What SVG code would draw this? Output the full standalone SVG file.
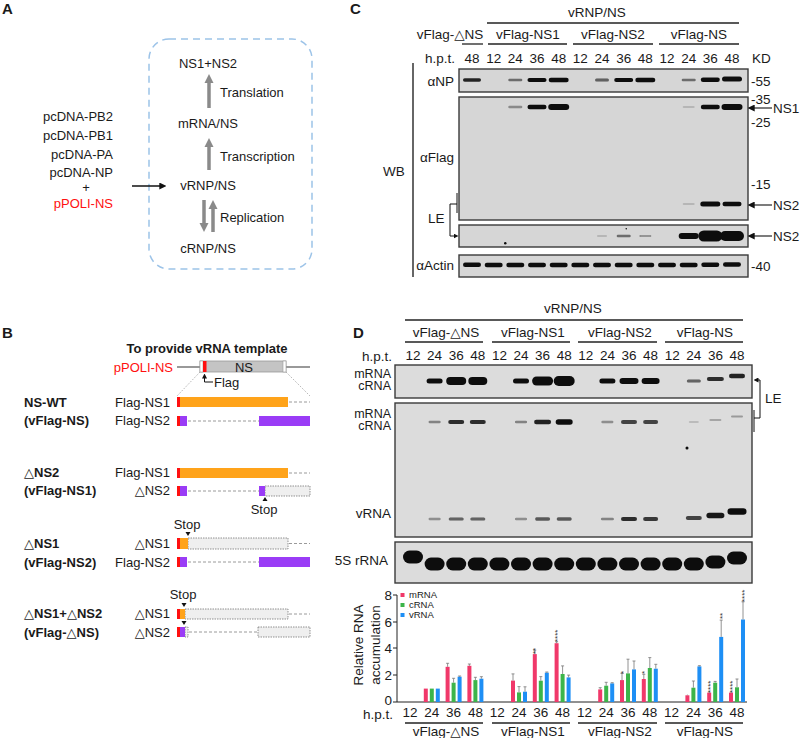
<svg xmlns="http://www.w3.org/2000/svg" width="800" height="738" viewBox="0 0 800 738">
<defs>
<style>
text{font-family:"Liberation Sans",Arial,"DejaVu Sans",sans-serif;fill:#1a1a1a;font-size:13px}
.s{font-size:13.5px}
.st{font-size:12.5px}
.b{font-weight:bold}
.pl{font-size:15px;font-weight:bold}
.red{fill:#ff1010}
.m{text-anchor:middle}
.e{text-anchor:end}
.ln{stroke:#222;stroke-width:1.3;fill:none}
.blot{fill:#d6d6d6;stroke:#3a3a3a;stroke-width:1.4}
.blotd{fill:#dcdcdc;stroke:#3a3a3a;stroke-width:1.4}
.bd rect{fill:#111}
.dash{stroke:#9a9a9a;stroke-width:1;stroke-dasharray:3 2;fill:none}
.ghost{fill:#efefef;stroke:#777;stroke-width:0.8;stroke-dasharray:1.5 1}
.or{fill:#ffa31a}
.pu{fill:#9a3cf6}
.rd{fill:#ff1010}
.mr{fill:#f0386a}
.cr{fill:#3cb54a}
.vr{fill:#1e8ff5}
.eb{stroke:#777;stroke-width:0.8;fill:none}
.ga{stroke:#8a8a8a;stroke-width:3.5;fill:none}
.ast{font-size:8px;fill:#333}
.lg{font-size:9.5px}
</style>
<marker id="mg" viewBox="0 0 10 10" refX="0" refY="5" markerWidth="9" markerHeight="10" markerUnits="userSpaceOnUse" orient="auto"><path d="M0,0 L10,5 L0,10 z" fill="#8a8a8a"/></marker>
<marker id="mk" viewBox="0 0 10 10" refX="1" refY="5" markerWidth="7" markerHeight="7" markerUnits="userSpaceOnUse" orient="auto"><path d="M0,0 L10,5 L0,10 z" fill="#111"/></marker>
<marker id="mks" viewBox="0 0 10 10" refX="1" refY="5" markerWidth="5" markerHeight="5" markerUnits="userSpaceOnUse" orient="auto"><path d="M0,0 L10,5 L0,10 z" fill="#111"/></marker>
<filter id="blur" x="-20%" y="-50%" width="140%" height="200%"><feGaussianBlur stdDeviation="0.7"/></filter>
</defs>

<text class="pl" x="2" y="14">A</text>
<text class="pl" x="350" y="14">C</text>
<text class="pl" x="2" y="338">B</text>
<text class="pl" x="353" y="338">D</text>

<g id="panelA">
  <rect id="cellbox" x="149" y="39" width="163" height="230" rx="20" fill="none" stroke="#9cc3e8" stroke-width="1.5" stroke-dasharray="7 5"/>
  <g id="plasmids">
    <text class="e" x="113" y="121">pcDNA-PB2</text>
    <text class="e" x="113" y="140">pcDNA-PB1</text>
    <text class="e" x="113" y="159">pcDNA-PA</text>
    <text class="e" x="113" y="177">pcDNA-NP</text>
    <text class="m" x="86" y="192">+</text>
    <text class="e red" x="113" y="208">pPOLI-NS</text>
  </g>
  <g id="nodeNS12"><text class="m" x="208" y="68">NS1+NS2</text></g>
  <g id="nodeMRNA"><text class="m" x="208" y="128">mRNA/NS</text></g>
  <g id="nodeVRNP"><text class="m" x="208" y="190">vRNP/NS</text></g>
  <g id="nodeCRNP"><text class="m" x="208" y="253">cRNP/NS</text></g>
  <g id="connectorsA">
    <line x1="132" y1="186" x2="160" y2="186" stroke="#111" stroke-width="1.5" marker-end="url(#mk)"/>
    <line class="ga" x1="209" y1="108" x2="209" y2="83" marker-end="url(#mg)"/>
    <line class="ga" x1="209" y1="170" x2="209" y2="147" marker-end="url(#mg)"/>
    <line class="ga" x1="204" y1="200" x2="204" y2="223" marker-end="url(#mg)"/>
    <line class="ga" x1="213" y1="232" x2="213" y2="209" marker-end="url(#mg)"/>
    <text x="220" y="97">Translation</text>
    <text x="220" y="161">Transcription</text>
    <text x="220" y="222">Replication</text>
  </g>
</g>

<g id="panelB">
  <text class="m b" x="207" y="353">To provide vRNA template</text>
  <g id="pPOLI">
    <text class="e red" x="173" y="372">pPOLI-NS</text>
    <line x1="177" y1="367" x2="200" y2="367" stroke="#777" stroke-width="1.5"/>
    <line x1="286" y1="367" x2="310" y2="367" stroke="#777" stroke-width="1.5"/>
    <rect x="200" y="361" width="86" height="11" fill="#c4c4c4" stroke="#999" stroke-width="0.8"/>
    <rect x="200" y="361" width="3" height="11" fill="#fff" stroke="#999" stroke-width="0.6"/>
    <rect x="283" y="361" width="3" height="11" fill="#fff" stroke="#999" stroke-width="0.6"/>
    <rect x="203" y="361" width="3.5" height="11" class="rd"/>
    <text class="m" x="244" y="371.5">NS</text>
    <path d="M213,382 H204.5 V378" stroke="#111" stroke-width="1" fill="none" marker-end="url(#mks)"/>
    <text x="214" y="387">Flag</text>
    <line x1="200" y1="372" x2="177" y2="396" stroke="#888" stroke-width="0.8" stroke-dasharray="1 1.5"/>
    <line x1="286" y1="372" x2="310" y2="396" stroke="#888" stroke-width="0.8" stroke-dasharray="1 1.5"/>
  </g>

  <g id="constructWT">
    <text class="b" x="24" y="407">NS-WT</text>
    <text class="b" x="24" y="425">(vFlag-NS)</text>
    <text class="e" x="170" y="407">Flag-NS1</text>
    <text class="e" x="170" y="425">Flag-NS2</text>
    <rect class="rd" x="177" y="397" width="3" height="10"/><rect class="or" x="180" y="397" width="108" height="10"/>
    <line class="dash" x1="289" y1="402" x2="310" y2="402"/>
    <rect class="rd" x="177" y="416" width="3" height="10"/><rect class="pu" x="180" y="416" width="7" height="10"/>
    <line class="dash" x1="188" y1="421" x2="259" y2="421"/>
    <rect class="pu" x="259" y="416" width="51" height="10"/>
  </g>

  <g id="constructDNS2">
    <text class="b" x="24" y="477">△NS2</text>
    <text class="b" x="24" y="495">(vFlag-NS1)</text>
    <text class="e" x="170" y="477">Flag-NS1</text>
    <text class="e" x="170" y="495">△NS2</text>
    <rect class="rd" x="177" y="468" width="3" height="10"/><rect class="or" x="180" y="468" width="108" height="10"/>
    <line class="dash" x1="289" y1="473" x2="310" y2="473"/>
    <rect class="rd" x="177" y="486" width="3" height="10"/><rect class="pu" x="180" y="486" width="7" height="10"/>
    <line class="dash" x1="188" y1="491" x2="259" y2="491"/>
    <rect class="ghost" x="265" y="486" width="45" height="10"/>
    <rect class="pu" x="259" y="486" width="6" height="10"/>
    <path d="M265,497 L262.5,501 L267.5,501 z" fill="#111"/>
    <text class="m" x="264" y="514">Stop</text>
  </g>

  <g id="constructDNS1">
    <text class="b" x="24" y="548">△NS1</text>
    <text class="b" x="24" y="567">(vFlag-NS2)</text>
    <text class="e" x="170" y="548">△NS1</text>
    <text class="e" x="170" y="567">Flag-NS2</text>
    <text class="m" x="187" y="529">Stop</text>
    <path d="M188,536 L185.5,532 L190.5,532 z" fill="#111"/>
    <rect class="ghost" x="188" y="538" width="100" height="11"/>
    <rect class="rd" x="177" y="538" width="3" height="11"/><rect class="or" x="180" y="538" width="8" height="11"/>
    <line class="dash" x1="289" y1="543.5" x2="310" y2="543.5"/>
    <rect class="rd" x="177" y="557" width="3" height="10"/><rect class="pu" x="180" y="557" width="7" height="10"/>
    <line class="dash" x1="188" y1="562" x2="259" y2="562"/>
    <rect class="pu" x="259" y="557" width="51" height="10"/>
  </g>

  <g id="constructDNS">
    <text class="b" x="24" y="618">△NS1+△NS2</text>
    <text class="b" x="24" y="637">(vFlag-△NS)</text>
    <text class="e" x="170" y="618">△NS1</text>
    <text class="e" x="170" y="637">△NS2</text>
    <text class="m" x="183" y="599">Stop</text>
    <path d="M184,607 L181.5,603 L186.5,603 z" fill="#111"/>
    <rect class="ghost" x="185" y="609" width="103" height="10"/>
    <rect class="rd" x="177" y="609" width="3" height="10"/><rect class="or" x="180" y="609" width="5" height="10"/>
    <line class="dash" x1="289" y1="614" x2="310" y2="614"/>
    <path d="M184,625 L181.5,621 L186.5,621 z" fill="#111"/>
    <rect class="ghost" x="185" y="627" width="3" height="10"/>
    <rect class="rd" x="177" y="627" width="3" height="10"/><rect class="pu" x="180" y="627" width="5" height="10"/>
    <line class="dash" x1="189" y1="632" x2="258" y2="632"/>
    <rect class="ghost" x="258" y="627" width="52" height="10"/>
  </g>
</g>

<g id="panelC">
  <text class="m s" x="597" y="17">vRNP/NS</text>
  <line class="ln" x1="487" y1="23" x2="739" y2="23"/>
  <text class="m s" x="450" y="39">vFlag-△NS</text>
  <text class="m s" x="528" y="39">vFlag-NS1</text>
  <text class="m s" x="613" y="39">vFlag-NS2</text>
  <text class="m s" x="699" y="39">vFlag-NS</text>
  <line class="ln" x1="462" y1="44" x2="483" y2="44"/>
  <line class="ln" x1="488" y1="44" x2="567" y2="44"/>
  <line class="ln" x1="573" y1="44" x2="653" y2="44"/>
  <line class="ln" x1="659" y1="44" x2="739" y2="44"/>
  <text class="s" x="425" y="63">h.p.t.</text>
  <g>
    <text class="m s" x="472" y="63">48</text>
    <text class="m s" x="493.7" y="63">12</text>
    <text class="m s" x="515.3" y="63">24</text>
    <text class="m s" x="537" y="63">36</text>
    <text class="m s" x="558.7" y="63">48</text>
    <text class="m s" x="580.3" y="63">12</text>
    <text class="m s" x="602" y="63">24</text>
    <text class="m s" x="623.7" y="63">36</text>
    <text class="m s" x="645.3" y="63">48</text>
    <text class="m s" x="667" y="63">12</text>
    <text class="m s" x="688.7" y="63">24</text>
    <text class="m s" x="710.3" y="63">36</text>
    <text class="m s" x="732" y="63">48</text>
  </g>
  <text class="s" x="752" y="63">KD</text>

  <line x1="413" y1="63" x2="413" y2="277" stroke="#333" stroke-width="1.5"/>
  <text class="s" x="383" y="176">WB</text>

  <g id="blotNP">
    <rect class="blot" x="459" y="69" width="289" height="23"/>
    <g class="bd" filter="url(#blur)">
      <rect x="463" y="78.2" width="18" height="3.5" rx="1.7" fill-opacity="0.9"/>
      <rect x="508.3" y="78.8" width="14" height="2.5" rx="1.2" fill-opacity="0.55"/>
      <rect x="527.5" y="78" width="19" height="4" rx="2"/>
      <rect x="548.7" y="77.8" width="20" height="4.5" rx="2.2"/>
      <rect x="595" y="78.5" width="14" height="3" rx="1.5" fill-opacity="0.6"/>
      <rect x="614.2" y="78" width="19" height="4" rx="2"/>
      <rect x="635.3" y="77.8" width="20" height="4.5" rx="2.2"/>
      <rect x="681.7" y="78.8" width="14" height="2.5" rx="1.2" fill-opacity="0.55"/>
      <rect x="700.8" y="77.5" width="19" height="4.5" rx="2.2"/>
      <rect x="722" y="76.5" width="20" height="5" rx="2.5"/>
    </g>
    <text class="e s" x="454" y="86">αNP</text>
    <text class="s" x="751" y="86">-55</text>
  </g>

  <g id="blotFlag">
    <rect class="blot" x="459" y="97" width="289" height="123"/>
    <g class="bd" filter="url(#blur)">
      <rect x="508.3" y="105.8" width="14" height="2.5" rx="1.2" fill-opacity="0.4"/>
      <rect x="527.5" y="104.8" width="19" height="4.5" rx="2.2"/>
      <rect x="548.2" y="104" width="21" height="6" rx="3"/>
      <rect x="682.7" y="106" width="12" height="2" rx="1" fill-opacity="0.15"/>
      <rect x="700.8" y="104.8" width="19" height="4.5" rx="2.2"/>
      <rect x="721.5" y="104" width="21" height="6" rx="3"/>
      <rect x="682.7" y="203" width="12" height="2" rx="1" fill-opacity="0.15"/>
      <rect x="700.3" y="201.5" width="20" height="5" rx="2.5"/>
      <rect x="722.5" y="201.8" width="19" height="4.5" rx="2.2"/>
    </g>
    <text class="e s" x="454" y="162">αFlag</text>
    <text class="s" x="751" y="104">-35</text>
    <text class="s" x="751" y="127">-25</text>
    <text class="s" x="751" y="189">-15</text>
  </g>

  <g id="blotLE">
    <rect class="blot" x="459" y="225" width="289" height="22"/>
    <g class="bd" filter="url(#blur)">
      <rect x="597" y="235.2" width="10" height="1.5" rx="0.7" fill-opacity="0.2"/>
      <rect x="616.7" y="234.8" width="14" height="2.5" rx="1.2" fill-opacity="0.55"/>
      <rect x="639.3" y="235" width="12" height="2" rx="1" fill-opacity="0.35"/>
      <rect x="678.7" y="233" width="20" height="6" rx="3"/>
      <rect x="698.3" y="230.5" width="24" height="11" rx="5.5"/>
      <rect x="720" y="231" width="24" height="10" rx="5"/>
      <rect x="504" y="242" width="2.5" height="2.5" rx="1.2"/>
      <rect x="625.5" y="228" width="1.5" height="1.5" rx="0.7"/>
    </g>
    <path d="M457,193 V213 M457,204 H450 V236 H454" stroke="#111" stroke-width="1" fill="none" marker-end="url(#mks)"/>
    <text class="s" x="428" y="223">LE</text>
  </g>

  <g id="blotActin">
    <rect class="blot" x="459" y="255" width="289" height="22"/>
    <g class="bd" filter="url(#blur)">
      <rect x="463" y="262.5" width="18" height="4.5" rx="2.2"/>
      <rect x="484.7" y="262.8" width="18" height="4.5" rx="2.2"/>
      <rect x="506.3" y="262.8" width="18" height="4.5" rx="2.2"/>
      <rect x="528" y="262.8" width="18" height="4.5" rx="2.2"/>
      <rect x="549.7" y="262.8" width="18" height="4.5" rx="2.2"/>
      <rect x="571.3" y="262.8" width="18" height="4.5" rx="2.2"/>
      <rect x="593" y="262.8" width="18" height="4.5" rx="2.2"/>
      <rect x="614.7" y="262.8" width="18" height="4.5" rx="2.2"/>
      <rect x="636.3" y="262.8" width="18" height="4.5" rx="2.2"/>
      <rect x="658" y="262.8" width="18" height="4.5" rx="2.2"/>
      <rect x="679.7" y="262.8" width="18" height="4.5" rx="2.2"/>
      <rect x="701.3" y="262.5" width="18" height="4.5" rx="2.2"/>
      <rect x="723" y="262.2" width="18" height="4.5" rx="2.2"/>
    </g>
    <text class="e s" x="454" y="270">αActin</text>
    <text class="s" x="751" y="271">-40</text>
  </g>

  <g id="sizeArrows">
    <line x1="772" y1="108" x2="754" y2="108" stroke="#111" stroke-width="1.1" marker-end="url(#mk)"/>
    <text class="s" x="773" y="113">NS1</text>
    <line x1="772" y1="205" x2="754" y2="205" stroke="#111" stroke-width="1.1" marker-end="url(#mk)"/>
    <text class="s" x="773" y="210">NS2</text>
    <line x1="772" y1="236" x2="754" y2="236" stroke="#111" stroke-width="1.1" marker-end="url(#mk)"/>
    <text class="s" x="773" y="241">NS2</text>
  </g>
</g>

<g id="panelD">
  <text class="m s" x="573" y="313">vRNP/NS</text>
  <line class="ln" x1="405" y1="320" x2="743" y2="320"/>
  <text class="m s" x="446" y="337">vFlag-△NS</text>
  <text class="m s" x="533" y="337">vFlag-NS1</text>
  <text class="m s" x="620" y="337">vFlag-NS2</text>
  <text class="m s" x="705" y="337">vFlag-NS</text>
  <line class="ln" x1="405" y1="342" x2="483" y2="342"/>
  <line class="ln" x1="492" y1="342" x2="570" y2="342"/>
  <line class="ln" x1="578" y1="342" x2="657" y2="342"/>
  <line class="ln" x1="665" y1="342" x2="743" y2="342"/>
  <text class="e s" x="392" y="361">h.p.t.</text>
  <g>
    <text class="m s" x="413" y="360">12</text>
    <text class="m s" x="434.6" y="360">24</text>
    <text class="m s" x="456.2" y="360">36</text>
    <text class="m s" x="477.8" y="360">48</text>
    <text class="m s" x="499.4" y="360">12</text>
    <text class="m s" x="521" y="360">24</text>
    <text class="m s" x="542.6" y="360">36</text>
    <text class="m s" x="564.2" y="360">48</text>
    <text class="m s" x="585.8" y="360">12</text>
    <text class="m s" x="607.4" y="360">24</text>
    <text class="m s" x="629" y="360">36</text>
    <text class="m s" x="650.6" y="360">48</text>
    <text class="m s" x="672.2" y="360">12</text>
    <text class="m s" x="693.8" y="360">24</text>
    <text class="m s" x="715.4" y="360">36</text>
    <text class="m s" x="737" y="360">48</text>
  </g>

  <g id="blotRNA1">
    <rect class="blotd" x="395" y="365" width="357" height="33"/>
    <g class="bd" filter="url(#blur)">
      <rect x="426.6" y="378.5" width="16" height="5" rx="2.5"/>
      <rect x="446.2" y="377" width="20" height="8" rx="4"/>
      <rect x="468.3" y="377" width="19" height="8" rx="4"/>
      <rect x="513" y="378.5" width="16" height="5" rx="2.5"/>
      <rect x="532.1" y="376.5" width="21" height="9" rx="4.5"/>
      <rect x="553.7" y="376" width="21" height="10" rx="5"/>
      <rect x="599.4" y="378.5" width="16" height="5" rx="2.5"/>
      <rect x="619.5" y="378" width="19" height="6" rx="3"/>
      <rect x="641.6" y="378" width="18" height="6" rx="3"/>
      <rect x="686.8" y="379.5" width="14" height="3" rx="1.5" fill-opacity="0.6"/>
      <rect x="706.9" y="377" width="17" height="4" rx="2" fill-opacity="0.85"/>
      <rect x="729" y="373.8" width="16" height="4.5" rx="2.2" fill-opacity="0.9"/>
    </g>
    <text class="e st" x="391" y="377.5">mRNA</text>
    <text class="e st" x="391" y="390">cRNA</text>
  </g>

  <g id="blotRNA2">
    <rect class="blotd" x="395" y="403" width="357" height="134"/>
    <g class="bd" filter="url(#blur)">
      <rect x="428.6" y="420.8" width="12" height="2.5" rx="1.2" fill-opacity="0.45"/>
      <rect x="448.2" y="420" width="16" height="4" rx="2" fill-opacity="0.85"/>
      <rect x="469.8" y="420" width="16" height="4" rx="2" fill-opacity="0.85"/>
      <rect x="515" y="420.8" width="12" height="2.5" rx="1.2" fill-opacity="0.45"/>
      <rect x="534.1" y="419.8" width="17" height="4.5" rx="2.2" fill-opacity="0.9"/>
      <rect x="555.7" y="419.2" width="17" height="5.5" rx="2.7"/>
      <rect x="601.4" y="420.8" width="12" height="2.5" rx="1.2" fill-opacity="0.4"/>
      <rect x="621" y="420" width="16" height="4" rx="2" fill-opacity="0.75"/>
      <rect x="643.1" y="420" width="15" height="4" rx="2" fill-opacity="0.75"/>
      <rect x="688.8" y="421" width="10" height="2" rx="1" fill-opacity="0.15"/>
      <rect x="709.4" y="419" width="12" height="2" rx="1" fill-opacity="0.25"/>
      <rect x="731" y="415.5" width="12" height="2" rx="1" fill-opacity="0.3"/>
      <rect x="428.6" y="517.8" width="12" height="2.5" rx="1.2" fill-opacity="0.4"/>
      <rect x="448.7" y="517.5" width="15" height="3" rx="1.5" fill-opacity="0.6"/>
      <rect x="470.3" y="517.5" width="15" height="3" rx="1.5" fill-opacity="0.6"/>
      <rect x="515" y="517.8" width="12" height="2.5" rx="1.2" fill-opacity="0.4"/>
      <rect x="535.1" y="517.2" width="15" height="3.5" rx="1.7" fill-opacity="0.65"/>
      <rect x="556.7" y="517.2" width="15" height="3.5" rx="1.7" fill-opacity="0.65"/>
      <rect x="600.9" y="517.8" width="13" height="2.5" rx="1.2" fill-opacity="0.45"/>
      <rect x="621" y="517" width="16" height="4" rx="2" fill-opacity="0.85"/>
      <rect x="643.1" y="517" width="15" height="4" rx="2" fill-opacity="0.8"/>
      <rect x="685.8" y="516" width="16" height="4" rx="2" fill-opacity="0.75"/>
      <rect x="706.4" y="512.8" width="18" height="5.5" rx="2.7" fill-opacity="0.95"/>
      <rect x="727.5" y="508.2" width="19" height="6.5" rx="3.2"/>
      <rect x="685.5" y="446.5" width="3" height="3" rx="1.5"/>
    </g>
    <text class="e st" x="391" y="417.5">mRNA</text>
    <text class="e st" x="391" y="430">cRNA</text>
    <text class="e s" x="391" y="518">vRNA</text>
    <path d="M754,410 V432 M754,418 H760 V380 H758" stroke="#111" stroke-width="1" fill="none" marker-end="url(#mks)"/>
    <text class="s" x="765" y="403">LE</text>
  </g>

  <g id="blot5S">
    <rect class="blotd" x="395" y="542" width="357" height="41"/>
    <g class="bd" filter="url(#blur)">
      <rect x="403" y="550.5" width="20" height="13" rx="6.5"/>
      <rect x="424.6" y="557.5" width="20" height="13" rx="6.5"/>
      <rect x="446.2" y="557.5" width="20" height="13" rx="6.5"/>
      <rect x="467.8" y="557.5" width="20" height="13" rx="6.5"/>
      <rect x="489.4" y="557.5" width="20" height="13" rx="6.5"/>
      <rect x="511" y="557.5" width="20" height="13" rx="6.5"/>
      <rect x="532.6" y="557.5" width="20" height="13" rx="6.5"/>
      <rect x="554.2" y="557.5" width="20" height="13" rx="6.5"/>
      <rect x="575.8" y="557.5" width="20" height="13" rx="6.5"/>
      <rect x="597.4" y="557.5" width="20" height="13" rx="6.5"/>
      <rect x="619" y="557.5" width="20" height="13" rx="6.5"/>
      <rect x="640.6" y="557.5" width="20" height="13" rx="6.5"/>
      <rect x="662.2" y="557.5" width="20" height="13" rx="6.5"/>
      <rect x="683.8" y="557.5" width="20" height="13" rx="6.5"/>
      <rect x="705.4" y="555.5" width="20" height="13" rx="6.5"/>
      <rect x="727" y="551.5" width="20" height="13" rx="6.5"/>
    </g>
    <text class="e s" x="388" y="565">5S rRNA</text>
  </g>

  <g id="chart">
    <line x1="397" y1="595" x2="397" y2="702" stroke="#222" stroke-width="1"/>
    <line x1="397" y1="702" x2="747" y2="702" stroke="#222" stroke-width="1"/>
    <g stroke="#222" stroke-width="1">
      <line x1="393" y1="595" x2="397" y2="595"/>
      <line x1="393" y1="622" x2="397" y2="622"/>
      <line x1="393" y1="648" x2="397" y2="648"/>
      <line x1="393" y1="675" x2="397" y2="675"/>
      <line x1="393" y1="702" x2="397" y2="702"/>
    </g>
    <text class="e s" x="392" y="599.5">8</text>
    <text class="e s" x="392" y="626.5">6</text>
    <text class="e s" x="392" y="652.5">4</text>
    <text class="e s" x="392" y="679.5">2</text>
    <text class="e s" x="392" y="705">0</text>
    <text class="m s" transform="translate(363,645) rotate(-90)">Relative RNA</text>
    <text class="m s" transform="translate(380,645) rotate(-90)">accumulation</text>

    <g id="legend">
      <rect class="mr" x="400.5" y="593" width="4" height="4"/>
      <text class="lg" x="409" y="598">mRNA</text>
      <rect class="cr" x="400.5" y="603" width="4" height="4"/>
      <text class="lg" x="409" y="608">cRNA</text>
      <rect class="vr" x="400.5" y="613" width="4" height="4"/>
      <text class="lg" x="409" y="618">vRNA</text>
    </g>

    <g id="bars">
      <rect class="mr" x="423.8" y="688.6" width="4" height="13.4"/>
      <rect class="cr" x="429.8" y="688.6" width="4" height="13.4"/>
      <rect class="vr" x="435.8" y="688.6" width="4" height="13.4"/>
      <rect class="mr" x="445.6" y="666.8" width="4" height="35.2"/>
      <rect class="cr" x="451.6" y="682.7" width="4" height="19.3"/>
      <rect class="vr" x="457.6" y="676.7" width="4" height="25.3"/>
      <rect class="mr" x="467.4" y="665.8" width="4" height="36.2"/>
      <rect class="cr" x="473.4" y="680.1" width="4" height="21.9"/>
      <rect class="vr" x="479.4" y="678.7" width="4" height="23.3"/>
      <rect class="mr" x="511" y="680.6" width="4" height="21.4"/>
      <rect class="cr" x="517" y="692.4" width="4" height="9.6"/>
      <rect class="vr" x="523" y="691.7" width="4" height="10.3"/>
      <rect class="mr" x="532.8" y="654.1" width="4" height="47.9"/>
      <rect class="cr" x="538.8" y="680.7" width="4" height="21.3"/>
      <rect class="vr" x="544.8" y="672.7" width="4" height="29.3"/>
      <rect class="mr" x="554.6" y="643.2" width="4" height="58.8"/>
      <rect class="cr" x="560.6" y="674" width="4" height="28"/>
      <rect class="vr" x="566.6" y="677.4" width="4" height="24.6"/>
      <rect class="mr" x="598.2" y="689.4" width="4" height="12.6"/>
      <rect class="cr" x="604.2" y="685.7" width="4" height="16.3"/>
      <rect class="vr" x="610.2" y="683.4" width="4" height="18.6"/>
      <rect class="mr" x="620" y="680.1" width="4" height="21.9"/>
      <rect class="cr" x="626" y="673.4" width="4" height="28.6"/>
      <rect class="vr" x="632" y="669.4" width="4" height="32.6"/>
      <rect class="mr" x="641.8" y="679" width="4" height="23"/>
      <rect class="cr" x="647.8" y="668" width="4" height="34"/>
      <rect class="vr" x="653.8" y="668.7" width="4" height="33.3"/>
      <rect class="mr" x="685.4" y="695.3" width="4" height="6.7"/>
      <rect class="cr" x="691.4" y="687.7" width="4" height="14.3"/>
      <rect class="vr" x="697.4" y="666.4" width="4" height="35.6"/>
      <rect class="mr" x="707.2" y="692.6" width="4" height="9.4"/>
      <rect class="cr" x="713.2" y="682.7" width="4" height="19.3"/>
      <rect class="vr" x="719.2" y="636.9" width="4" height="65.1"/>
      <rect class="mr" x="729" y="692.6" width="4" height="9.4"/>
      <rect class="cr" x="735" y="687.3" width="4" height="14.7"/>
      <rect class="vr" x="741" y="619.5" width="4" height="82.5"/>
    </g>
    <g id="errorbars" class="eb">
      <path d="M447.6,666.8 V663.3 M446.1,663.3 H449.1 M453.6,682.7 V678.3 M452.1,678.3 H455.1 M459.6,676.7 V676 M458.1,676 H461.1"/>
      <path d="M469.4,665.8 V664 M467.9,664 H470.9 M475.4,680.1 V677.3 M473.9,677.3 H476.9 M481.4,678.7 V676.7 M479.9,676.7 H482.9"/>
      <path d="M513,680.6 V673.9 M511.5,673.9 H514.5 M519,692.4 V686.6 M517.5,686.6 H520.5 M525,691.7 V686.8 M523.5,686.8 H526.5"/>
      <path d="M534.8,654.1 V650.1 M533.3,650.1 H536.3 M540.8,680.7 V676.6 M539.3,676.6 H542.3 M546.8,672.7 V672 M545.3,672 H548.3"/>
      <path d="M556.6,643.2 V641.8 M555.1,641.8 H558.1 M562.6,674 V665.9 M561.1,665.9 H564.1 M568.6,677.4 V675.1 M567.1,675.1 H570.1"/>
      <path d="M600.2,689.4 V687.7 M598.7,687.7 H601.7 M606.2,685.7 V682.3 M604.7,682.3 H607.7 M612.2,683.4 V682.7 M610.7,682.7 H613.7"/>
      <path d="M622,680.1 V673.4 M620.5,673.4 H623.5 M628,673.4 V659.2 M626.5,659.2 H629.5 M634,669.4 V661 M632.5,661 H635.5"/>
      <path d="M643.8,679 V674.3 M642.3,674.3 H645.3 M649.8,668 V657.6 M648.3,657.6 H651.3 M655.8,668.7 V664.3 M654.3,664.3 H657.3"/>
      <path d="M687.4,695.3 V694.6 M693.4,687.7 V681 M691.9,681 H694.9 M699.4,666.4 V665.7 M697.9,665.7 H700.9"/>
      <path d="M709.2,692.6 V691.3 M715.2,682.7 V681.4 M713.7,681.4 H716.7 M721.2,636.9 V620.1 M719.7,620.1 H722.7"/>
      <path d="M731,692.6 V691.3 M737,687.3 V679 M735.5,679 H738.5 M743,619.5 V601.8 M741.5,601.8 H744.5"/>
    </g>
    <g id="asterisks">
      <text class="ast" transform="translate(538.3,654) rotate(-90)">**</text>
      <text class="ast" transform="translate(560.1,642) rotate(-90)">****</text>
      <text class="ast" transform="translate(625.5,674) rotate(-90)">*</text>
      <text class="ast" transform="translate(647.3,674) rotate(-90)">*</text>
      <text class="ast" transform="translate(712.7,693) rotate(-90)">****</text>
      <text class="ast" transform="translate(734.5,693) rotate(-90)">****</text>
      <text class="ast" transform="translate(724.7,619) rotate(-90)">**</text>
      <text class="ast" transform="translate(746.5,602) rotate(-90)">****</text>
    </g>

    <text class="e s" x="393" y="719">h.p.t.</text>
    <g>
      <text class="m s" x="410" y="717">12</text>
      <text class="m s" x="431.8" y="717">24</text>
      <text class="m s" x="453.6" y="717">36</text>
      <text class="m s" x="475.4" y="717">48</text>
      <text class="m s" x="497.2" y="717">12</text>
      <text class="m s" x="519" y="717">24</text>
      <text class="m s" x="540.8" y="717">36</text>
      <text class="m s" x="562.6" y="717">48</text>
      <text class="m s" x="584.4" y="717">12</text>
      <text class="m s" x="606.2" y="717">24</text>
      <text class="m s" x="628" y="717">36</text>
      <text class="m s" x="649.8" y="717">48</text>
      <text class="m s" x="671.6" y="717">12</text>
      <text class="m s" x="693.4" y="717">24</text>
      <text class="m s" x="715.2" y="717">36</text>
      <text class="m s" x="737" y="717">48</text>
    </g>
    <line class="ln" x1="405" y1="723" x2="483" y2="723"/>
    <line class="ln" x1="492" y1="723" x2="570" y2="723"/>
    <line class="ln" x1="578" y1="723" x2="657" y2="723"/>
    <line class="ln" x1="665" y1="723" x2="743" y2="723"/>
    <text class="m s" x="446" y="736">vFlag-△NS</text>
    <text class="m s" x="533" y="736">vFlag-NS1</text>
    <text class="m s" x="620" y="736">vFlag-NS2</text>
    <text class="m s" x="705" y="736">vFlag-NS</text>
  </g>
</g>
</svg>
